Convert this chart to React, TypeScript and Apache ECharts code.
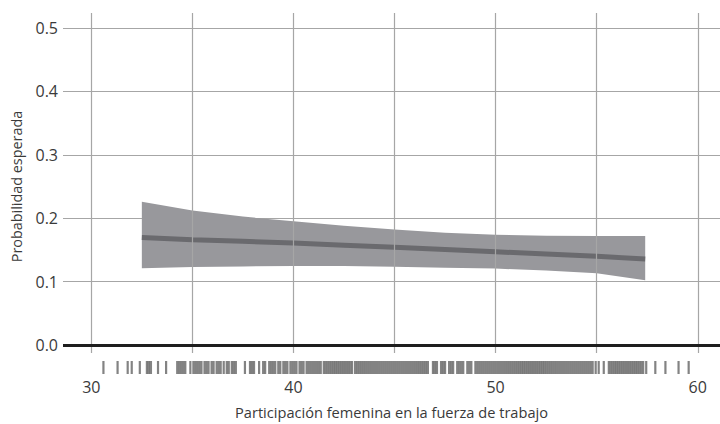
import React, { useEffect, useRef } from "react";
import * as echarts from "echarts";

const xTicks = [30, 40, 50, 60];
const vGridLines = [30, 35, 40, 45, 50, 55, 60];
const yTicksMax = 0.5;

const bandX = [32.5, 35, 37.5, 40, 42.5, 45, 47.5, 50, 52.5, 55, 57.4];
const upper = [0.226, 0.212, 0.2025, 0.195, 0.188, 0.182, 0.177, 0.174, 0.1725, 0.172, 0.172];
const lower = [0.121, 0.123, 0.124, 0.1245, 0.1245, 0.1235, 0.122, 0.1205, 0.1175, 0.113, 0.102];
const fit = [0.1697, 0.166, 0.1635, 0.161, 0.1575, 0.154, 0.1505, 0.147, 0.1435, 0.1398, 0.1356];

const rug = [
  30.6, 31.3, 31.8, 32.0, 32.4, 32.75, 32.85, 32.95, 33.3, 33.7, 34.25, 34.35, 34.45, 34.55, 34.65, 34.9, 35.05,
  35.15, 35.25, 35.35, 35.45, 35.6, 35.7, 35.8, 35.95, 36.05, 36.2, 36.3, 36.4, 36.55, 36.7, 36.8, 36.95, 37.05, 37.15,
  37.6, 37.85, 37.95, 38.05, 38.3, 38.5, 38.6, 38.8, 38.9, 39.0, 39.1, 39.25, 39.35, 39.5, 39.6, 39.7, 39.85, 39.95,
  40.05, 40.15, 40.3, 40.4, 40.5, 40.65, 40.75, 40.85, 40.95, 41.05, 41.15, 41.25, 41.35, 41.5, 41.6, 41.7, 41.8,
  41.9, 42.0, 42.1, 42.2, 42.3, 42.4, 42.5, 42.6, 42.7, 42.8, 42.9, 43.05, 43.15, 43.25, 43.35, 43.45, 43.55, 43.65,
  43.75, 43.85, 43.95, 44.05, 44.15, 44.25, 44.35, 44.45, 44.55, 44.65, 44.75, 44.85, 44.95, 45.05, 45.15, 45.25,
  45.35, 45.45, 45.55, 45.65, 45.75, 45.85, 45.95, 46.05, 46.15, 46.25, 46.35, 46.45, 46.55, 46.65, 46.9, 47.0,
  47.1, 47.3, 47.4, 47.5, 47.7, 47.8, 47.9, 48.1, 48.2, 48.3, 48.4, 48.6, 48.7, 48.8, 49.0, 49.1, 49.2, 49.3, 49.4,
  49.5, 49.6, 49.7, 49.8, 49.9, 50.0, 50.1, 50.2, 50.3, 50.4, 50.5, 50.6, 50.7, 50.8, 50.9, 51.0, 51.1, 51.2, 51.3,
  51.4, 51.5, 51.6, 51.7, 51.8, 51.9, 52.0, 52.1, 52.2, 52.3, 52.4, 52.5, 52.6, 52.7, 52.8, 52.9, 53.0, 53.1, 53.2,
  53.3, 53.4, 53.5, 53.6, 53.7, 53.8, 53.9, 54.0, 54.1, 54.2, 54.3, 54.4, 54.5, 54.6, 54.7, 54.8, 54.95, 55.1,
  55.35, 55.6, 55.7, 55.8, 55.9, 56.0, 56.1, 56.2, 56.3, 56.4, 56.5, 56.6, 56.7, 56.8, 56.9, 57.0, 57.1, 57.2, 57.3,
  57.45, 57.9, 58.4, 59.05, 59.55,
];

const X_MIN = 28.6;
const X_MAX = 61.1;
const FONT = "'Open Sans', 'Noto Sans', sans-serif";
const TEXT = "#3a3a3a";

export default function App() {
  const ref = useRef<HTMLDivElement>(null);
  useEffect(() => {
    if (!ref.current) return;
    const chart = echarts.init(ref.current, null, { renderer: "svg" });
    const xBase = { type: "value", min: X_MIN, max: X_MAX, axisLine: { show: false }, axisTick: { show: false }, splitLine: { show: false } };
    chart.setOption({
      animation: false,
      backgroundColor: "#ffffff",
      textStyle: { fontFamily: FONT },
      grid: [
        { left: 63, right: 0, top: 28, height: 317 },
        { left: 63, right: 0, top: 13, height: 345 },
        { left: 63, right: 0, top: 361, height: 13 },
      ],
      xAxis: [
        { ...xBase, gridIndex: 0, axisLabel: { show: false } },
        {
          ...xBase,
          gridIndex: 1,
          axisLabel: {
            show: true,
            customValues: xTicks,
            fontSize: 16,
            color: TEXT,
            fontFamily: FONT,
            margin: 26,
          },
          name: "Participación femenina en la fuerza de trabajo",
          nameLocation: "middle",
          nameGap: 51,
          nameTextStyle: { fontSize: 14.6, color: TEXT, fontFamily: FONT },
        },
        { ...xBase, gridIndex: 2, axisLabel: { show: false } },
      ],
      yAxis: [
        {
          type: "value",
          gridIndex: 0,
          min: 0,
          max: yTicksMax,
          interval: 0.1,
          axisLine: { show: false },
          axisTick: { show: false },
          splitLine: { show: true, lineStyle: { color: "#a6a6a6", width: 1.2 } },
          axisLabel: { formatter: (v: number) => v.toFixed(1), fontSize: 16, color: TEXT, fontFamily: FONT, margin: 5 },
          name: "Probabilidad esperada",
          nameLocation: "middle",
          nameGap: 40,
          nameTextStyle: { fontSize: 14.4, color: TEXT, fontFamily: FONT },
        },
        { type: "value", gridIndex: 1, min: 0, max: 1, show: false },
        { type: "value", gridIndex: 2, min: 0, max: 1, show: false },
      ],
      series: [
        {
          type: "line",
          xAxisIndex: 1,
          yAxisIndex: 1,
          data: [],
          z: 0,
          silent: true,
          markLine: {
            silent: true,
            symbol: "none",
            label: { show: false },
            lineStyle: { color: "#a6a6a6", width: 1.2, type: "solid" },
            data: vGridLines.map((v) => ({ xAxis: v })),
          },
        },
        {
          type: "custom",
          xAxisIndex: 0,
          yAxisIndex: 0,
          data: [[bandX[0], upper[0]]],
          z: 2,
          silent: true,
          renderItem: (params: any, api: any) => {
            const pts: number[][] = [];
            for (let i = 0; i < bandX.length; i++) pts.push(api.coord([bandX[i], upper[i]]));
            for (let i = bandX.length - 1; i >= 0; i--) pts.push(api.coord([bandX[i], lower[i]]));
            return { type: "polygon", shape: { points: pts }, style: { fill: "#98989c" } };
          },
        },
        {
          type: "line",
          xAxisIndex: 0,
          yAxisIndex: 0,
          data: bandX.map((x, i) => [x, fit[i]]),
          lineStyle: { color: "#6a6a6e", width: 5, cap: "butt" },
          showSymbol: false,
          symbol: "none",
          z: 3,
          markLine: {
            silent: true,
            symbol: "none",
            label: { show: false },
            lineStyle: { color: "#1e1e1e", width: 3, type: "solid" },
            data: [{ yAxis: 0 }],
          },
        },
        {
          type: "scatter",
          xAxisIndex: 2,
          yAxisIndex: 2,
          data: rug.map((v) => [v, 0.5]),
          symbol: "rect",
          symbolSize: [2.2, 13],
          itemStyle: { color: "rgba(40,40,40,0.72)" },
          silent: true,
        },
      ],
    });
    return () => chart.dispose();
  }, []);
  return <div ref={ref} style={{ width: 720, height: 424, position: "absolute", left: 0, top: 0 }} />;
}
